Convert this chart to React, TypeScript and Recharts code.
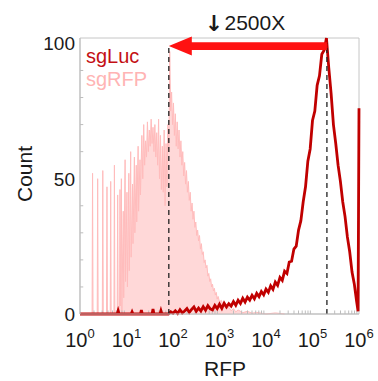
import React from 'react';
import { ComposedChart, Line, Area, XAxis, YAxis, ReferenceLine, ReferenceArea, Legend } from 'recharts';

const FONT = '"Liberation Sans", Arial, sans-serif';

// log10(RFP) bin positions and counts
const LUC_X = [
  0.0, 0.8, 0.82, 0.84, 1.1, 1.12, 1.14, 1.3, 1.32, 1.34, 1.55, 1.57, 1.59, 1.72, 1.74, 1.76, 1.9, 1.95,
  2.0, 2.05, 2.1, 2.15, 2.2, 2.25, 2.3, 2.35, 2.4, 2.45, 2.5, 2.55, 2.6, 2.65, 2.7, 2.75, 2.8, 2.85, 2.9, 2.95,
  3.0, 3.05, 3.1, 3.15, 3.2, 3.25, 3.3, 3.35, 3.4, 3.45, 3.5, 3.55, 3.6, 3.65, 3.7, 3.75, 3.8, 3.85, 3.9, 3.95,
  4.0, 4.05, 4.1, 4.15, 4.2, 4.25, 4.3, 4.35, 4.4, 4.45, 4.5, 4.55, 4.6, 4.65, 4.7, 4.75, 4.8, 4.85, 4.9, 4.95,
  5.0, 5.05, 5.1, 5.15, 5.2, 5.25, 5.3, 5.35, 5.4, 5.45, 5.5, 5.55, 5.6, 5.65, 5.7, 5.75, 5.8, 5.85, 5.9, 5.95,
  5.98, 6.0,
];
const LUC_COUNT = [
  0, 0, 1.2, 0, 0, 0.8, 0, 0, 1.5, 0, 0, 1.8, 0, 0, 1.2, 0, 0, 0.8,
  0.3, 1.2, 0.2, 1.6, 0.4, 1.1, 2.0, 0.6, 1.7, 2.6, 1.0, 2.2, 1.1, 2.7, 1.4, 3.1, 1.9, 1.5, 3.2, 2.0,
  3.6, 2.1, 4.0, 2.6, 3.8, 2.9, 4.6, 3.2, 5.1, 3.9, 5.8, 4.4, 6.2, 5.1, 6.9, 5.6, 7.6, 6.4, 8.3, 7.1,
  9.2, 8.0, 10.4, 9.1, 11.8, 10.6, 13.5, 12.4, 15.8, 15.0, 19.2, 19.5, 24.0, 25.1, 31.0, 34.5, 41.5, 47.0, 56.5, 61.0,
  71.5, 75.0, 84.5, 88.0, 96.0, 97.5, 102, 91.0, 81.5, 70.0, 63.0, 55.0, 49.0, 41.5, 36.0, 28.5, 23.0, 15.5, 11.0, 4.5,
  1.0, 76,
];

const RFP_X = [
  0.2, 0.26, 0.27, 0.28, 0.37, 0.38, 0.39, 0.48, 0.49, 0.5, 0.57, 0.58, 0.59, 0.65, 0.66, 0.67, 0.73, 0.74, 0.75,
  0.8, 0.81, 0.82, 0.85, 0.86, 0.87, 0.89, 0.9, 0.93, 0.94, 0.97, 0.98, 1.01, 1.02, 1.05, 1.06, 1.09, 1.1,
  1.13, 1.14, 1.17, 1.18, 1.21, 1.22, 1.25, 1.26, 1.29, 1.3, 1.33, 1.35, 1.37, 1.39, 1.41, 1.43, 1.45, 1.47,
  1.49, 1.51, 1.53, 1.55, 1.57, 1.59, 1.61, 1.63, 1.65, 1.67, 1.69, 1.71, 1.73, 1.75, 1.77, 1.79, 1.81, 1.83,
  1.85, 1.87, 1.89, 1.91, 1.93, 1.95, 1.97, 1.99, 2.01, 2.03, 2.05, 2.07, 2.09, 2.11, 2.13, 2.15, 2.17, 2.19,
  2.21, 2.23, 2.25, 2.27, 2.29, 2.31, 2.33, 2.35, 2.37, 2.39, 2.41, 2.43, 2.45, 2.47, 2.49, 2.51, 2.53, 2.55,
  2.57, 2.59, 2.61, 2.63, 2.65, 2.67, 2.69, 2.71, 2.73, 2.75, 2.77, 2.79, 2.81, 2.83, 2.85, 2.87, 2.89, 2.91,
  2.93, 2.95, 2.97, 3.0, 3.04, 3.08, 3.12, 3.16, 3.2, 3.25, 3.3, 3.35, 3.4, 3.5, 3.6, 3.7, 3.8, 4.0, 4.2, 4.4,
];
const RFP_COUNT = [
  0, 0, 52, 0, 0, 50, 0, 0, 53, 0, 0, 47, 0, 0, 49, 0, 0, 55, 0,
  0, 44, 0, 0, 46, 3, 50, 0, 38, 6, 57, 12, 45, 10, 52, 16, 60, 21,
  48, 26, 58, 30, 55, 34, 62, 38, 57, 44, 66, 50, 70, 55, 64, 58, 71, 60,
  68, 62, 72, 63, 69, 60, 70, 58, 67, 55, 72, 50, 66, 46, 62, 45, 68, 40,
  63, 47, 70, 60, 97, 75, 82, 70, 78, 66, 74, 62, 71, 61, 68, 58, 64, 55,
  60, 51, 56, 48, 53, 45, 49, 42, 45, 38, 41, 35, 38, 32, 34, 29, 31, 27,
  29, 24, 26, 22, 23, 19, 20, 17, 18, 14, 15, 12, 13, 10, 11, 8.5, 9.5, 7,
  8, 5.5, 6.5, 4.5, 5, 3, 3.5, 2, 2.5, 1.2, 2, 0.8, 1.5, 0.5, 1, 0.3, 0.6, 0, 0.4, 0,
];

const X_TICKS = [0, 1, 2, 3, 4, 5, 6];
const X_TICK_EXP = ['0', '1', '2', '3', '4', '5', '6'];
const Y_TICKS = [0, 50, 100];
const Y_MINOR = [10, 20, 30, 40, 60, 70, 80, 90];
const LEGEND_NAMES = ['sgLuc', 'sgRFP'];
const COLORS: Record<string, string> = { sgLuc: '#c40f14', sgRFP: '#ffb4b4' };
const GATE_LOW = 1.91;
const GATE_HIGH = 5.31;
const ARROW_LEVEL = 99;
const FOLD_LABEL = '2500X';

const lucData = LUC_X.map((x, i) => ({ x, y: LUC_COUNT[i] }));
const rfpData = RFP_X.map((x, i) => ({ x, y: RFP_COUNT[i] }));

// minor log ticks (2..9 in every decade)
const xMinor: number[] = [];
for (let d = 0; d < 6; d++) {
  for (let k = 2; k <= 9; k++) xMinor.push(d + Math.log10(k));
}

const XTick = ({ x, y, payload }: any) => {
  const i = X_TICKS.indexOf(payload.value);
  return (
    <text x={x} y={y + 31} textAnchor="middle" fontSize={20} fill="#1a1a1a" fontFamily={FONT}>
      <tspan>10</tspan>
      <tspan dy={-9} fontSize={13}>{X_TICK_EXP[i]}</tspan>
    </text>
  );
};

const YTick = ({ x, y, payload }: any) => (
  <text x={x} y={y + 7} textAnchor="end" fontSize={19} fill="#1a1a1a" fontFamily={FONT}>
    {payload.value}
  </text>
);

const FoldArrow = (props: any) => {
  const { x1, y1, x2 } = props;
  const head = 23;
  const halfHead = 9.5;
  const halfShaft = 3.8;
  const pts = [
    [x2, y1],
    [x2 + head, y1 - halfHead],
    [x2 + head, y1 - halfShaft],
    [x1, y1 - halfShaft],
    [x1, y1 + halfShaft],
    [x2 + head, y1 + halfShaft],
    [x2 + head, y1 + halfHead],
  ];
  const mid = (x1 + x2) / 2;
  return (
    <g>
      <polygon points={pts.map((p) => p.join(',')).join(' ')} fill="#ff1212" />
      <text x={mid - 34} y={y1 - 15} textAnchor="middle" fontSize={22} fontWeight="bold" fill="#1a1a1a" fontFamily='"DejaVu Sans", sans-serif'>
        ↓
      </text>
      <text x={mid + 7} y={y1 - 16} textAnchor="middle" fontSize={21} fill="#1a1a1a" fontFamily={FONT}>
        {FOLD_LABEL}
      </text>
    </g>
  );
};

const LegendBox = () => (
  <div style={{ fontFamily: FONT, fontSize: 20, lineHeight: '23px' }}>
    {LEGEND_NAMES.map((n) => (
      <div key={n} style={{ color: COLORS[n] }}>{n}</div>
    ))}
  </div>
);

export default function App() {
  return (
    <div style={{ position: 'absolute', left: 0, top: 0, width: 378, height: 381, background: '#fff' }}>
      <ComposedChart width={378} height={381} margin={{ top: 38, right: 19, bottom: 0, left: 0 }}>
        <ReferenceArea x1={0} x2={6} y1={0} y2={102} fill="none" stroke="#c6c6c6" strokeWidth={1} />
        <XAxis
          type="number"
          dataKey="x"
          domain={[0, 6]}
          ticks={X_TICKS}
          interval={0}
          tick={<XTick />}
          tickSize={0}
          tickLine={false}
          axisLine={{ stroke: '#bdbdbd' }}
          height={67}
          label={() => (
            <text x={225} y={376} textAnchor="middle" fontSize={21} fill="#1a1a1a" fontFamily={FONT}>RFP</text>
          )}
        />
        <YAxis
          type="number"
          domain={[0, 102]}
          ticks={Y_TICKS}
          interval={0}
          tick={<YTick />}
          tickSize={0}
          tickMargin={5}
          tickLine={false}
          axisLine={{ stroke: '#bdbdbd' }}
          width={80}
          label={() => (
            <text transform="translate(32,174) rotate(-90)" textAnchor="middle" fontSize={21} fill="#1a1a1a" fontFamily={FONT}>Count</text>
          )}
        />
        {xMinor.map((p) => (
          <ReferenceLine key={'xm' + p} segment={[{ x: p, y: 0 }, { x: p, y: 1.3 }]} stroke="#bdbdbd" />
        ))}
        {Y_MINOR.map((v) => (
          <ReferenceLine key={'ym' + v} segment={[{ x: 0, y: v }, { x: 0.07, y: v }]} stroke="#bdbdbd" />
        ))}
        <Area
          data={rfpData}
          dataKey="y"
          name="sgRFP"
          type="linear"
          stroke="#ffbcbc"
          strokeWidth={1}
          fill="#ffd8d8"
          fillOpacity={1}
          dot={false}
          activeDot={false}
          isAnimationActive={false}
        />
        <Line
          data={lucData}
          dataKey="y"
          name="sgLuc"
          type="linear"
          stroke="#c00000"
          strokeWidth={2.8}
          dot={false}
          activeDot={false}
          isAnimationActive={false}
        />
        <ReferenceLine segment={[{ x: GATE_LOW, y: 0 }, { x: GATE_LOW, y: ARROW_LEVEL }]} stroke="#222" strokeWidth={1.3} strokeDasharray="5 4" />
        <ReferenceLine segment={[{ x: GATE_HIGH, y: 0 }, { x: GATE_HIGH, y: ARROW_LEVEL + 1 }]} stroke="#222" strokeWidth={1.3} strokeDasharray="5 4" />
        <ReferenceLine
          segment={[{ x: GATE_HIGH, y: ARROW_LEVEL }, { x: GATE_LOW, y: ARROW_LEVEL }]}
          shape={FoldArrow}
          ifOverflow="visible"
        />
        <Legend
          layout="vertical"
          align="center"
          verticalAlign="middle"
          wrapperStyle={{ left: 86, top: 45, width: 'auto' }}
          content={LegendBox}
        />
      </ComposedChart>
    </div>
  );
}
